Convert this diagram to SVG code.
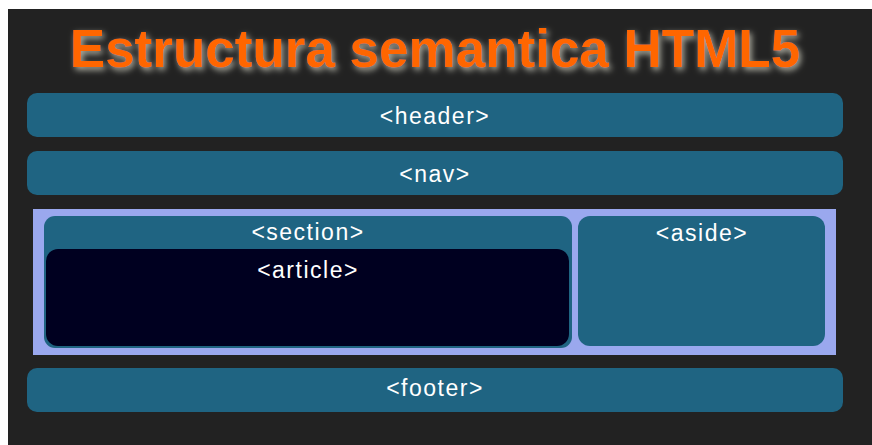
<svg xmlns="http://www.w3.org/2000/svg" width="872" height="445" viewBox="0 0 872 445">
  <style>
    .box { fill: #1f6482; }
    .lbl { font-family: "Liberation Sans", Arial, sans-serif; font-size: 23px; fill: #ffffff; text-anchor: middle; letter-spacing: 1.5px; }
    .title { font-family: "Liberation Sans", Arial, sans-serif; font-size: 53px; font-weight: bold; text-anchor: middle; fill: #ff6600; }
  </style>
  <defs>
    <filter id="glow" x="-10%" y="-40%" width="120%" height="180%">
      <feGaussianBlur in="SourceAlpha" stdDeviation="3" result="b"/>
      <feOffset in="b" dx="2" dy="3" result="o"/>
      <feFlood flood-color="#d0d0c0" flood-opacity="0.8"/>
      <feComposite in2="o" operator="in" result="s"/>
      <feMerge>
        <feMergeNode in="s"/>
        <feMergeNode in="SourceGraphic"/>
      </feMerge>
    </filter>
  </defs>
  <rect x="0" y="0" width="872" height="445" fill="#ffffff"/>
  <rect x="8" y="9" width="864" height="436" fill="#222222"/>

  <g id="title">
    <text class="title" x="435" y="67" filter="url(#glow)">Estructura semantica HTML5</text>
  </g>

  <g id="header">
    <rect class="box" x="27" y="93" width="816" height="44" rx="10"/>
    <text class="lbl" x="435" y="124">&lt;header&gt;</text>
  </g>

  <g id="nav">
    <rect class="box" x="27" y="151" width="816" height="44" rx="10"/>
    <text class="lbl" x="435" y="182">&lt;nav&gt;</text>
  </g>

  <g id="main">
    <rect x="33" y="209" width="803" height="146" fill="#9aa8ee"/>
  </g>

  <g id="section">
    <rect class="box" x="44" y="216" width="528" height="132" rx="11"/>
    <text class="lbl" x="308" y="240">&lt;section&gt;</text>
  </g>

  <g id="article">
    <rect x="46" y="249" width="523" height="97" rx="12" fill="#000020"/>
    <text class="lbl" x="308" y="278">&lt;article&gt;</text>
  </g>

  <g id="aside">
    <rect class="box" x="578" y="216" width="247" height="130" rx="12"/>
    <text class="lbl" x="702" y="241">&lt;aside&gt;</text>
  </g>

  <g id="footer">
    <rect class="box" x="27" y="368" width="816" height="44" rx="10"/>
    <text class="lbl" x="435" y="396">&lt;footer&gt;</text>
  </g>

  <g id="connectors"></g>
</svg>
